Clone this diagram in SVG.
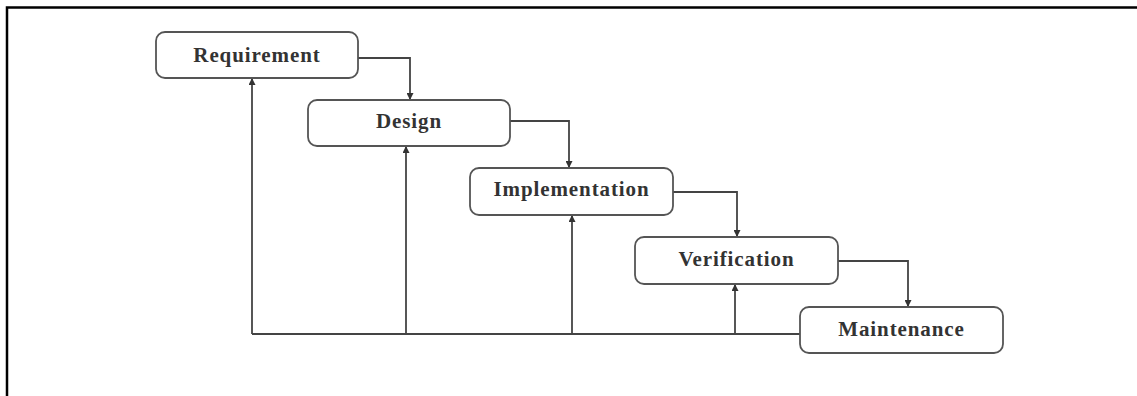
<svg xmlns="http://www.w3.org/2000/svg" width="1137" height="396" viewBox="0 0 1137 396">
  <defs>
    <marker id="arr" viewBox="0 0 10 10" refX="10" refY="5" markerWidth="7" markerHeight="7" markerUnits="userSpaceOnUse" orient="auto">
      <path d="M0,0 L10,5 L0,10 Z" fill="#333"/>
    </marker>
    <style>
      .box { fill: #ffffff; stroke: #555; stroke-width: 1.8; }
      .lbl { font-family: "Liberation Serif", "DejaVu Serif", serif; font-size: 21px; font-weight: bold; fill: #333; text-anchor: middle; letter-spacing: 0.9px; }
      .con { fill: none; stroke: #444; stroke-width: 1.8; }
      .frame { fill: none; stroke: #000; stroke-width: 2.5; }
    </style>
  </defs>
  <rect width="1137" height="396" fill="#ffffff"/>
  <path class="frame" d="M7,396 L7,7.5 L1137,7.5"/>

  <g id="connectors">
    <path class="con" d="M358,58 L410,58 L410,100" marker-end="url(#arr)"/>
    <path class="con" d="M510,121 L569,121 L569,168" marker-end="url(#arr)"/>
    <path class="con" d="M673,192 L737,192 L737,237" marker-end="url(#arr)"/>
    <path class="con" d="M838,261 L908,261 L908,307" marker-end="url(#arr)"/>
    <path class="con" d="M800,334 L252,334"/>
    <path class="con" d="M252,334 L252,78" marker-end="url(#arr)"/>
    <path class="con" d="M406,334 L406,146" marker-end="url(#arr)"/>
    <path class="con" d="M572,334 L572,215" marker-end="url(#arr)"/>
    <path class="con" d="M735,334 L735,284" marker-end="url(#arr)"/>
  </g>

  <g id="requirement">
    <rect class="box" x="156" y="32" width="202" height="46" rx="9"/>
    <text class="lbl" x="257" y="62">Requirement</text>
  </g>
  <g id="design">
    <rect class="box" x="308" y="100" width="202" height="46" rx="9"/>
    <text class="lbl" x="409" y="128">Design</text>
  </g>
  <g id="implementation">
    <rect class="box" x="470" y="168" width="203" height="47" rx="9"/>
    <text class="lbl" x="571.5" y="196">Implementation</text>
  </g>
  <g id="verification">
    <rect class="box" x="635" y="237" width="203" height="47" rx="9"/>
    <text class="lbl" x="736.5" y="266">Verification</text>
  </g>
  <g id="maintenance">
    <rect class="box" x="800" y="307" width="203" height="46" rx="9"/>
    <text class="lbl" x="901.5" y="336">Maintenance</text>
  </g>
</svg>
